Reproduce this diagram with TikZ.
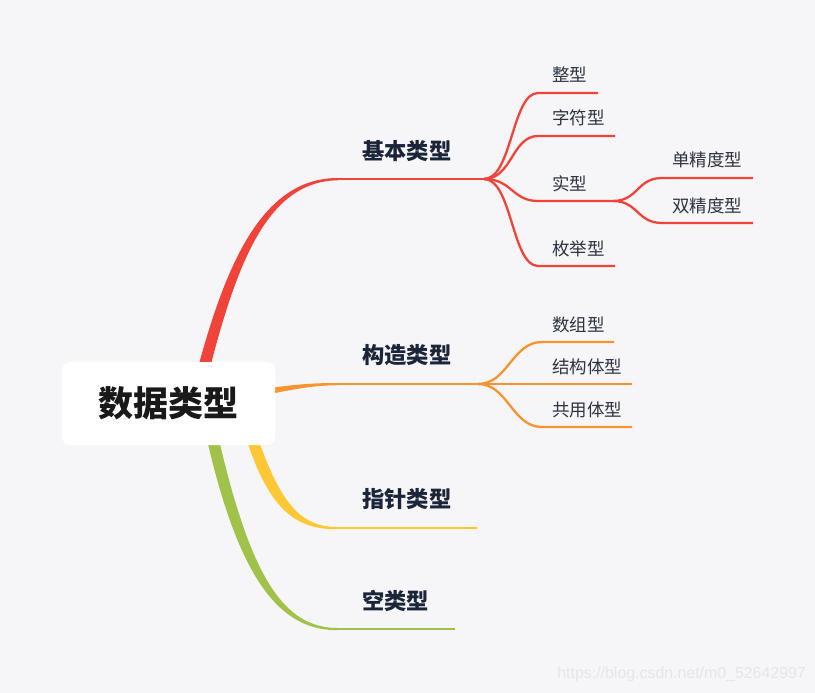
\documentclass[tikz,border=0pt]{standalone}
\usepackage{fontspec}
\newfontfamily\cjk{Noto Sans CJK SC}
\newfontfamily\wmfont{Liberation Sans}
\definecolor{bg}{HTML}{F6F6F9}
\definecolor{cred}{HTML}{F0433A}
\definecolor{corange}{HTML}{F7942F}
\definecolor{cyellow}{HTML}{FEC736}
\definecolor{cgreen}{HTML}{A1C24A}
\definecolor{tmain}{HTML}{1B2539}
\definecolor{tsub}{HTML}{2E3340}
\definecolor{wmc}{HTML}{E5E5EB}
\begin{document}
\begin{tikzpicture}[x=1pt,y=-1pt,
  mainlbl/.style={anchor=west,inner sep=0pt,font=\cjk\bfseries\fontsize{22.3}{22.3}\selectfont,text=tmain},
  sublbl/.style={anchor=west,inner sep=0pt,font=\cjk\fontsize{17.5}{17.5}\selectfont,text=tsub},
  rootbox/.style={fill=white,rounded corners=8pt,minimum width=213pt,minimum height=83pt,inner sep=0pt,
    font=\cjk\bfseries\fontsize{35}{35}\selectfont,text=black!90},
  redl/.style={draw=cred,line width=2.3pt},
  orl/.style={draw=corange,line width=2.3pt},
  yel/.style={draw=cyellow,line width=2.3pt},
  grl/.style={draw=cgreen,line width=2.3pt},
  wmstyle/.style={anchor=east,inner sep=0pt,text=wmc,font=\wmfont\fontsize{15.9}{15.9}\selectfont}]
\fill[bg] (0,0) rectangle (815,693);
\useasboundingbox (0,0) rectangle (815,693);

% ---- coordinates ----
\coordinate (rA) at (338,179);  \coordinate (hubR) at (484,179);
\coordinate (oA) at (338,384);  \coordinate (hubO) at (478,384);
\coordinate (yA) at (337,528);  \coordinate (yE) at (477,528);
\coordinate (gA) at (337,629);  \coordinate (gE) at (455,629);

% ---- tapered root branches ----
\fill[cred] (199,364) .. controls (230,250) and (268,178) .. (338,178)
  -- (338,180.3) .. controls (272,181) and (240,252) .. (211,364) -- cycle;
\fill[corange] (270,388) .. controls (300,384) and (315,383) .. (338,383)
  -- (338,385.2) .. controls (315,385.5) and (300,388) .. (270,394) -- cycle;
\fill[cyellow] (248,444) .. controls (272,515) and (300,529.2) .. (337,529.2)
  -- (337,527) .. controls (302,527) and (282,505) .. (260,444) -- cycle;
\fill[cgreen] (208,444) .. controls (240,580) and (280,630.2) .. (337,630.2)
  -- (337,628) .. controls (285,627.5) and (252,580) .. (220,444) -- cycle;

% ---- main lines ----
\draw[redl,line width=2pt] (rA) -- (hubR);
\draw[orl,line width=2pt] (oA) -- (hubO);
\draw[yel] (yA) -- (yE);
\draw[grl] (gA) -- (gE);

% ---- red children ----
\coordinate (zxS) at (538,93);  \coordinate (zxE) at (598,93);
\coordinate (zfS) at (538,136); \coordinate (zfE) at (615,136);
\coordinate (sxS) at (538,201); \coordinate (hubS) at (613,201);
\coordinate (mjS) at (538,266); \coordinate (mjE) at (615,266);
\draw[redl] (hubR) .. controls +(28,0) and +(-26,0) .. (zxS) -- (zxE);
\draw[redl] (hubR) .. controls +(28,0) and +(-26,0) .. (zfS) -- (zfE);
\draw[redl] (hubR) .. controls +(28,0) and +(-26,0) .. (sxS) -- (hubS);
\draw[redl] (hubR) .. controls +(28,0) and +(-26,0) .. (mjS) -- (mjE);

\coordinate (djS) at (662,178); \coordinate (djE) at (753,178);
\coordinate (sjS) at (662,223); \coordinate (sjE) at (753,223);
\draw[redl] (hubS) .. controls +(25,0) and +(-25,0) .. (djS) -- (djE);
\draw[redl] (hubS) .. controls +(25,0) and +(-25,0) .. (sjS) -- (sjE);

% ---- orange children ----
\coordinate (szS) at (542,342); \coordinate (szE) at (614,342);
\coordinate (jgS) at (542,384); \coordinate (jgE) at (632,384);
\coordinate (gyS) at (542,427); \coordinate (gyE) at (632,427);
\draw[orl] (hubO) .. controls +(30,0) and +(-30,0) .. (szS) -- (szE);
\draw[orl] (hubO) -- (jgS) -- (jgE);
\draw[orl] (hubO) .. controls +(30,0) and +(-30,0) .. (gyS) -- (gyE);

% ---- labels ----
\node[mainlbl] (jb) at (362,151) {基本类型};
\node[mainlbl] (gz) at (362,355) {构造类型};
\node[mainlbl] (zz) at (362,499) {指针类型};
\node[mainlbl] (kl) at (362,601) {空类型};

\node[sublbl] (zx) at (552,75) {整型};
\node[sublbl] (zf) at (552,118) {字符型};
\node[sublbl] (sx) at (552,184) {实型};
\node[sublbl] (mj) at (552,249) {枚举型};
\node[sublbl] (dj) at (672,160) {单精度型};
\node[sublbl] (sj) at (672,206) {双精度型};
\node[sublbl] (sz) at (552,325) {数组型};
\node[sublbl] (jg) at (552,367) {结构体型};
\node[sublbl] (gy) at (552,410) {共用体型};

% ---- root ----
\node[rootbox] (root) at (168.5,403.5) {数据类型};

\node[wmstyle] (wm) at (806,674) {https://blog.csdn.net/m0\_52642997};
\end{tikzpicture}
\end{document}
